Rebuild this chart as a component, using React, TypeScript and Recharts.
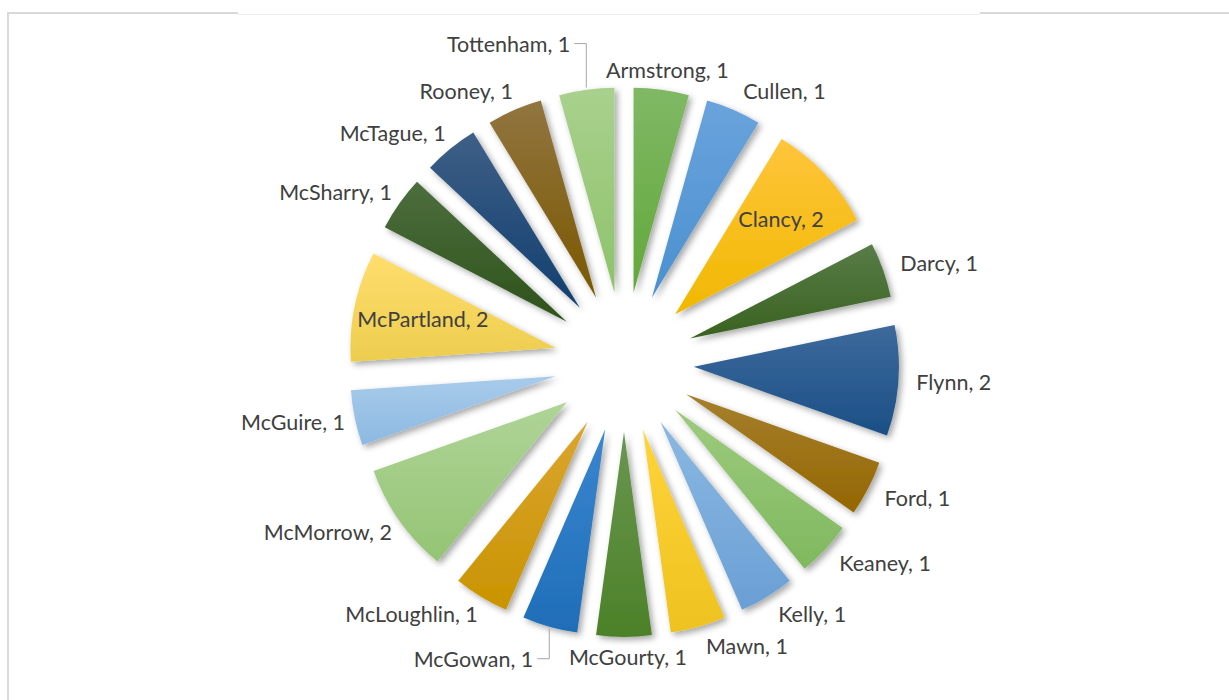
import React from 'react';
import { PieChart, Pie, Cell, Sector } from 'recharts';

// surnames, in the order the slices run clockwise from 12 o'clock
const surnames = [
  'Armstrong', 'Cullen', 'Clancy', 'Darcy', 'Flynn', 'Ford', 'Keaney', 'Kelly', 'Mawn',
  'McGourty', 'McGowan', 'McLoughlin', 'McMorrow', 'McGuire', 'McPartland', 'McSharry',
  'McTague', 'Rooney', 'Tottenham',
];
const counts = [1, 1, 2, 1, 2, 1, 1, 1, 1, 1, 1, 1, 2, 1, 2, 1, 1, 1, 1];

// gradient stops for each slice (top -> bottom)
const topColors = [
  '#80b865', '#6aa3dc', '#ffc53c', '#587c48', '#3d6a9c', '#a67f2e', '#9dcb7e', '#8bb8e2', '#ffd43a',
  '#6a9650', '#3a86cf', '#dba531', '#afd497', '#a8cbeb', '#ffde6e', '#4d6e3e', '#3e5f86', '#917540',
  '#a9d18e',
];
const bottomColors = [
  '#62a83a', '#4a90d0', '#f0b800', '#3a6220', '#1b4f86', '#946700', '#7fb85e', '#6a9fd5', '#eec21f',
  '#4c8128', '#1f6db8', '#c99400', '#94c474', '#8db9e2', '#edcd4e', '#2e521a', '#123f70', '#7a5800',
  '#8ec26a',
];

const data = surnames.map((name, i) => ({ name, value: counts[i] }));

const RAD = Math.PI / 180;
const EXPLODE = 70;
const TEXT = '#404040';
const FONT = 'Lato, "Open Sans", sans-serif';
const FS = 21.5;

const renderSlice = (props: any) => {
  const { cx, cy, midAngle, innerRadius, outerRadius, startAngle, endAngle, fill } = props;
  const dx = EXPLODE * Math.cos(-midAngle * RAD);
  const dy = EXPLODE * Math.sin(-midAngle * RAD);
  return (
    <Sector
      cx={cx + dx}
      cy={cy + dy}
      innerRadius={innerRadius}
      outerRadius={outerRadius}
      startAngle={startAngle}
      endAngle={endAngle}
      fill={fill}
      stroke="none"
      filter="url(#sliceShadow)"
    />
  );
};

const renderLabel = (props: any) => {
  const { cx, cy, midAngle, outerRadius, name, value } = props;
  const ux = Math.cos(-midAngle * RAD);
  const uy = Math.sin(-midAngle * RAD);
  const text = `${name}, ${value}`;

  // wide slices in the upper half carry their label inside
  if (value >= 2 && uy < 0) {
    const r = EXPLODE + outerRadius * 0.68;
    return (
      <text x={cx + r * ux + 4} y={cy + r * uy} textAnchor="middle" dominantBaseline="central"
        fill={TEXT} fontSize={FS} fontFamily={FONT}>
        {text}
      </text>
    );
  }

  // left-hand labels near the vertical get pushed out with a leader line
  if (ux < -0.01 && Math.abs(uy) > 0.95) {
    const ro = EXPLODE + outerRadius + 2;
    const px = cx + ro * ux;
    const py = cy + ro * uy;
    const ly = py + (uy < 0 ? -44 : 30);
    return (
      <g>
        <polyline points={`${px},${py} ${px},${ly} ${px - 12},${ly}`} fill="none" stroke="#a6a6a6" strokeWidth={1} />
        <text x={px - 16} y={ly} textAnchor="end" dominantBaseline="central"
          fill={TEXT} fontSize={FS} fontFamily={FONT}>
          {text}
        </text>
      </g>
    );
  }

  const r = EXPLODE + outerRadius + 14;
  let anchor: 'start' | 'end' | 'middle' = ux > 0 ? 'start' : 'end';
  if (Math.abs(ux) < 0.01 || Math.abs(uy) > 0.98) anchor = 'middle';
  return (
    <text x={cx + r * ux + 4} y={cy + r * uy + 6 * uy} textAnchor={anchor} dominantBaseline="central"
      fill={TEXT} fontSize={FS} fontFamily={FONT}>
      {text}
    </text>
  );
};

export default function App() {
  return (
    <div style={{ position: 'absolute', left: 0, top: 0, width: 1229, height: 700, overflow: 'hidden', background: '#fff' }}>
      {/* chart frame */}
      <div style={{ position: 'absolute', left: 7, top: 12, width: 1260, height: 720, border: '2px solid #d9d9d9' }} />
      {/* title box overlapping the frame */}
      <div style={{ position: 'absolute', left: 238, top: 0, width: 742, height: 14, background: '#fff', borderBottom: '1px solid #ececec' }} />
      <div style={{ position: 'absolute', left: 0, top: 0 }}>
        <PieChart width={1229} height={700}>
          <defs>
            <filter id="sliceShadow" x="-30%" y="-30%" width="160%" height="160%">
              <feDropShadow dx={3} dy={3} stdDeviation={3} floodColor="#000" floodOpacity={0.35} />
            </filter>
            {topColors.map((c, i) => (
              <linearGradient key={i} id={`grad${i}`} x1="0" y1="0" x2="0" y2="1">
                <stop offset="0%" stopColor={c} />
                <stop offset="100%" stopColor={bottomColors[i]} />
              </linearGradient>
            ))}
          </defs>
          <Pie
            data={data}
            dataKey="value"
            nameKey="name"
            cx={619}
            cy={357}
            innerRadius={0}
            outerRadius={205}
            startAngle={90}
            endAngle={-270}
            stroke="none"
            shape={renderSlice}
            label={renderLabel}
            labelLine={false}
            isAnimationActive={false}
          >
            {data.map((d, i) => (
              <Cell key={d.name} fill={`url(#grad${i})`} />
            ))}
          </Pie>
        </PieChart>
      </div>
    </div>
  );
}
